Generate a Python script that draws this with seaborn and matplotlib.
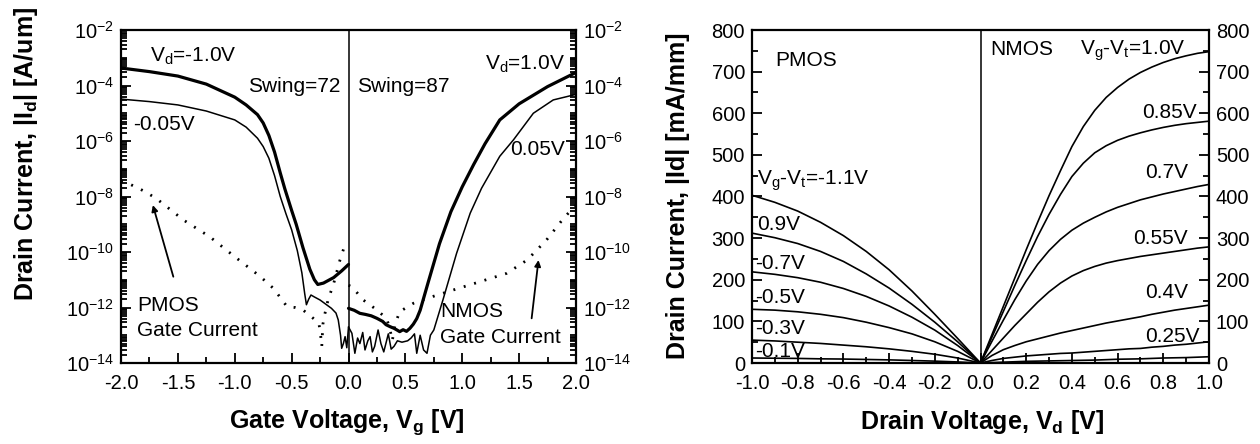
import numpy as np
import pandas as pd
import matplotlib
matplotlib.use("Agg")
import matplotlib.pyplot as plt
import seaborn as sns
from matplotlib.ticker import MultipleLocator, FixedLocator, NullFormatter, FormatStrFormatter, LogFormatterSciNotation

# ---------------- Left panel data: Id-Vg (log10 of |Id| in A/um) ----------------
pmos_hi_vg = [-2.0, -1.75, -1.5, -1.25, -1.0, -0.9, -0.8, -0.75, -0.7, -0.65, -0.6, -0.56, -0.5,
              -0.46, -0.4, -0.34, -0.3, -0.27, -0.22, -0.13, -0.06, 0.0]
pmos_hi_log10 = [-3.37, -3.50, -3.66, -3.95, -4.42, -4.70, -5.05, -5.35, -5.80, -6.40, -7.15, -7.72, -8.50,
                 -9.00, -9.85, -10.62, -11.0, -11.17, -11.12, -10.92, -10.68, -10.45]

pmos_lo_vg = [-2.0, -1.75, -1.5, -1.25, -1.0, -0.9, -0.8, -0.75, -0.7, -0.65, -0.6, -0.55, -0.5, -0.45,
              -0.41, -0.385, -0.37, -0.35, -0.33, -0.3, -0.25, -0.2, -0.15, -0.11, -0.09, -0.07, -0.06,
              -0.045, -0.03, -0.015, 0.0]
pmos_lo_log10 = [-4.49, -4.58, -4.70, -4.92, -5.24, -5.50, -5.90, -6.20, -6.62, -7.25, -8.0, -8.62, -9.20, -9.95,
                 -10.75, -11.5, -11.9, -11.7, -11.55, -11.62, -11.73, -11.88, -12.03, -12.2, -12.45, -13.0, -13.47,
                 -13.3, -13.05, -13.45, -12.7]

nmos_hi_vg = [0.0, 0.05, 0.1, 0.15, 0.2, 0.25, 0.3, 0.33, 0.365, 0.4, 0.43, 0.45, 0.48, 0.51, 0.54, 0.57,
              0.6, 0.63, 0.7, 0.8, 0.9, 1.0, 1.1, 1.2, 1.33, 1.5, 1.75, 2.0]
nmos_hi_log10 = [-12.03, -12.1, -12.21, -12.25, -12.3, -12.39, -12.5, -12.62, -12.69, -12.75, -12.82, -12.87,
                 -12.8, -12.86, -12.75, -12.6, -12.4, -12.1, -11.1, -9.7, -8.55, -7.65, -6.85, -6.1, -5.24,
                 -4.66, -4.04, -3.53]

nmos_lo_vg = [0.0, 0.03, 0.056, 0.08, 0.10, 0.125, 0.145, 0.17, 0.19, 0.21, 0.23, 0.26, 0.285, 0.31, 0.35,
              0.375, 0.40, 0.43, 0.47, 0.52, 0.55, 0.58, 0.60, 0.63, 0.66, 0.69, 0.72, 0.75, 0.83, 0.95,
              1.07, 1.17, 1.33, 1.45, 1.625, 1.8, 2.0]
nmos_lo_log10 = [-12.7, -12.93, -13.65, -13.1, -13.3, -12.9, -13.53, -13.2, -13.05, -13.6, -13.4, -12.81, -13.3,
                 -13.6, -12.95, -13.5, -13.4, -13.2, -13.25, -13.2, -13.1, -12.95, -13.65, -13.0, -13.53, -13.65,
                 -13.0, -12.81, -11.73, -10.05, -8.6, -7.7, -6.55, -5.96, -5.0, -4.52, -4.32]

pgate_vg = [-2.0, -1.94, -1.8, -1.69, -1.45, -1.22, -1.0, -0.78, -0.66, -0.54, -0.47, -0.4, -0.31, -0.26,
            -0.245, -0.235, -0.225, -0.21, -0.18, -0.13, -0.075, -0.04]
pgate_log10 = [-7.45, -7.52, -7.8, -8.07, -8.85, -9.45, -10.17, -10.87, -11.31, -11.97, -12.0, -12.09, -12.39,
               -12.57, -13.0, -13.4, -12.6, -12.27, -11.73, -11.13, -10.29, -9.85]

ngate_vg = [0.0, 0.03, 0.13, 0.23, 0.335, 0.365, 0.385, 0.41, 0.45, 0.57, 0.69, 0.92, 1.156, 1.39, 1.57,
            1.74, 1.89, 2.0]
ngate_log10 = [-11.2, -11.25, -11.73, -12.03, -12.39, -12.8, -13.2, -12.6, -12.15, -11.85, -11.67, -11.37,
               -11.07, -10.77, -10.29, -9.57, -8.79, -8.3]

# ---------------- Right panel data: Id-Vd (mA/mm) ----------------
pmos_vd = [-1.0, -0.9, -0.8, -0.7, -0.6, -0.5, -0.4, -0.3, -0.2, -0.1, 0.0]
pmos_labels = ["-1.1V", "-0.9V", "-0.7V", "-0.5V", "-0.3V", "-0.1V"]
pmos_id_m11 = [403, 386, 365, 338, 306, 268, 224, 173, 117, 59, 0]
pmos_id_m09 = [312, 301, 287, 268, 244, 214, 180, 141, 98, 51, 0]
pmos_id_m07 = [219, 213, 205, 194, 179, 160, 137, 110, 79, 42, 0]
pmos_id_m05 = [129, 127, 123, 117, 109, 98, 85, 70, 51, 28, 0]
pmos_id_m03 = [55, 53, 50, 47, 43, 39, 34, 28, 21, 12, 0]
pmos_id_m01 = [12, 11.5, 11, 10, 9.5, 8.5, 7.5, 6, 4.5, 2.5, 0]

nmos_vd = [0.0, 0.05, 0.1, 0.15, 0.2, 0.25, 0.3, 0.35, 0.4, 0.45, 0.5, 0.55, 0.6, 0.65, 0.7,
           0.75, 0.8, 0.85, 0.9, 0.95, 1.0]
nmos_labels = ["1.0V", "0.85V", "0.7V", "0.55V", "0.4V", "0.25V", "0.1V"]
nmos_id_100 = [0, 68, 136, 204, 272, 338, 402, 462, 520, 568, 607, 638, 662, 682, 698, 711, 722, 731, 738, 744, 748]
nmos_id_085 = [0, 62, 124, 186, 246, 304, 357, 405, 448, 480, 505, 522, 535, 545, 553, 560, 566, 571, 575, 578, 581]
nmos_id_070 = [0, 52, 103, 152, 197, 237, 270, 297, 319, 336, 350, 363, 374, 383, 392, 399, 406, 412, 418, 424, 429]
nmos_id_055 = [0, 30, 60, 90, 118, 146, 171, 192, 209, 222, 232, 240, 246, 251, 256, 260, 264, 268, 272, 276, 279]
nmos_id_040 = [0, 18, 32, 42, 51, 58, 65, 72, 78, 84, 90, 96, 101, 106, 111, 117, 122, 127, 131, 135, 139]
nmos_id_025 = [0, 6, 11, 14, 17, 19, 21, 23, 24, 26, 28, 30, 32, 34, 35, 38, 40, 43, 45, 48, 51]
nmos_id_010 = [0, 1, 2, 3, 4, 4.5, 5, 5.5, 6, 6.5, 7, 8, 9, 9.5, 10, 11, 12, 12.5, 13, 14, 15]

# ---------------- style ----------------
sns.set_theme(style="ticks")
plt.rcParams["font.family"] = ["Liberation Sans", "DejaVu Sans"]
plt.rcParams["mathtext.fontset"] = "custom"
plt.rcParams["mathtext.rm"] = "Liberation Sans"
plt.rcParams["mathtext.it"] = "Liberation Sans"
plt.rcParams["mathtext.bf"] = "Liberation Sans:bold"
plt.rcParams["axes.unicode_minus"] = False
plt.rcParams["axes.grid"] = False
plt.rcParams["text.color"] = "black"
plt.rcParams["axes.labelcolor"] = "black"
plt.rcParams["xtick.color"] = "black"
plt.rcParams["ytick.color"] = "black"

TICK_FS = 14.5
ANN_FS = 15
LAB_FS = 18

fig = plt.figure(figsize=(12.6, 4.44), dpi=100)
fig.patch.set_facecolor("white")
axL = fig.add_axes([121 / 1260, 1 - 363 / 444, 455 / 1260, 333 / 444])
axR = fig.add_axes([752 / 1260, 1 - 363 / 444, 457 / 1260, 333 / 444])

def curve_df(x, logy):
    return pd.DataFrame({"x": x, "y": np.power(10.0, np.asarray(logy, float))})

# ---------------- Left panel ----------------
axL.set_yscale("log")
for x, ly, lw, ls in [
    (pmos_hi_vg, pmos_hi_log10, 2.3, "-"),
    (nmos_hi_vg, nmos_hi_log10, 2.3, "-"),
    (pmos_lo_vg, pmos_lo_log10, 1.1, "-"),
    (nmos_lo_vg, nmos_lo_log10, 1.1, "-"),
    (pgate_vg, pgate_log10, 2.0, (0, (0.7, 3.2))),
    (ngate_vg, ngate_log10, 2.0, (0, (0.7, 3.2))),
]:
    sns.lineplot(data=curve_df(x, ly), x="x", y="y", ax=axL, color="black", lw=lw,
                 linestyle=ls, estimator=None, sort=False)

axL.axvline(0.0, color="black", lw=1.1)
axL.set_xlim(-2.0, 2.0)
axL.set_ylim(1e-14, 1e-2)
axL.xaxis.set_major_locator(MultipleLocator(0.5))
axL.xaxis.set_minor_locator(MultipleLocator(0.25))
axL.xaxis.set_major_formatter(FormatStrFormatter("%.1f"))
axL.yaxis.set_major_locator(FixedLocator([10.0 ** e for e in range(-14, -1, 2)]))
minor_pos = []
for d in range(-14, -2):
    for s in range(1, 10):
        v = s * 10.0 ** d
        if not (s == 1 and d % 2 == 0):
            minor_pos.append(v)
axL.yaxis.set_minor_locator(FixedLocator(minor_pos))
axL.yaxis.set_minor_formatter(NullFormatter())
axL.yaxis.set_major_formatter(LogFormatterSciNotation())
axL.set_xlabel("")
axL.set_ylabel("")

def anL(x, logy, s, **kw):
    axL.text(x, 10.0 ** logy, s, fontsize=ANN_FS, color="black", va="baseline", **kw)

anL(-1.745, -3.15, r"V$_\mathrm{d}$=-1.0V")
anL(-0.884, -4.23, "Swing=72")
anL(0.075, -4.23, "Swing=87")
anL(1.20, -3.44, r"V$_\mathrm{d}$=1.0V")
anL(-1.895, -5.60, "-0.05V")
anL(1.42, -6.50, "0.05V")
anL(-1.86, -12.12, "PMOS")
anL(-1.86, -13.03, "Gate Current")
anL(0.805, -12.33, "NMOS")
anL(0.805, -13.29, "Gate Current")

arrow_kw = dict(arrowstyle="-|>", color="black", lw=1.3, mutation_scale=9, shrinkA=0, shrinkB=0)
axL.annotate("", xy=(-1.72, 10 ** -8.31), xytext=(-1.54, 10 ** -10.89), arrowprops=arrow_kw)
axL.annotate("", xy=(1.67, 10 ** -10.29), xytext=(1.61, 10 ** -12.39), arrowprops=arrow_kw)

# ---------------- Right panel ----------------
rows = []
for lab, vals in zip(pmos_labels, [pmos_id_m11, pmos_id_m09, pmos_id_m07, pmos_id_m05, pmos_id_m03, pmos_id_m01]):
    rows.append(pd.DataFrame({"Vd": pmos_vd, "Id": vals, "curve": "P" + lab}))
for lab, vals in zip(nmos_labels, [nmos_id_100, nmos_id_085, nmos_id_070, nmos_id_055, nmos_id_040, nmos_id_025, nmos_id_010]):
    rows.append(pd.DataFrame({"Vd": nmos_vd, "Id": vals, "curve": "N" + lab}))
dfR = pd.concat(rows, ignore_index=True)
sns.lineplot(data=dfR, x="Vd", y="Id", units="curve", estimator=None, color="black", lw=1.2, ax=axR, sort=False)
axR.axvline(0.0, color="black", lw=1.1)
axR.set_xlim(-1.0, 1.0)
axR.set_ylim(0, 800)
axR.xaxis.set_major_locator(MultipleLocator(0.2))
axR.xaxis.set_minor_locator(MultipleLocator(0.1))
axR.xaxis.set_major_formatter(FormatStrFormatter("%.1f"))
axR.yaxis.set_major_locator(MultipleLocator(100))
axR.yaxis.set_minor_locator(MultipleLocator(50))
axR.set_xlabel("")
axR.set_ylabel("")

def anR(x, y, s, **kw):
    axR.text(x, y, s, fontsize=ANN_FS, color="black", va="baseline", **kw)

anR(-0.90, 713, "PMOS")
anR(0.042, 740, "NMOS")
anR(0.435, 740, r"V$_\mathrm{g}$-V$_\mathrm{t}$=1.0V")
anR(0.947, 589, "0.85V", ha="right")
anR(0.908, 444, "0.7V", ha="right")
anR(0.908, 286, "0.55V", ha="right")
anR(0.908, 156, "0.4V", ha="right")
anR(0.96, 51, "0.25V", ha="right")
anR(-0.979, 428, r"V$_\mathrm{g}$-V$_\mathrm{t}$=-1.1V")
anR(-0.979, 320, "0.9V")
anR(-0.987, 227, "-0.7V")
anR(-0.987, 143, "-0.5V")
anR(-0.987, 70, "-0.3V")
anR(-0.987, 15, "-0.1V")

# ---------------- axes styling ----------------
for ax in (axL, axR):
    ax.set_facecolor("white")
    for sp in ax.spines.values():
        sp.set_visible(True)
        sp.set_linewidth(1.6)
        sp.set_color("black")
    ax.tick_params(axis="both", which="both", direction="in", colors="black",
                   top=False, bottom=True, left=True, right=True,
                   labelleft=True, labelright=True, labelsize=TICK_FS, width=1.3)
    ax.tick_params(axis="both", which="major", length=7)
    ax.tick_params(axis="both", which="minor", length=4)
    ax.tick_params(axis="x", which="major", pad=8)
    ax.tick_params(axis="y", which="major", pad=5)

fig.text(26 / 1260, 1 - 154 / 444, r"Drain Current, |I$_\mathbf{d}$| [A/um]", rotation=90,
         ha="center", va="center", fontsize=LAB_FS, fontweight="bold", color="black")
fig.text(347 / 1260, 1 - 428 / 444, r"Gate Voltage, V$_\mathbf{g}$ [V]",
         ha="center", va="baseline", fontsize=LAB_FS, fontweight="bold", color="black")
fig.text(678 / 1260, 1 - 196 / 444, "Drain Current, |Id| [mA/mm]", rotation=90,
         ha="center", va="center", fontsize=LAB_FS, fontweight="bold", color="black")
fig.text(982 / 1260, 1 - 429 / 444, r"Drain Voltage, V$_\mathbf{d}$ [V]",
         ha="center", va="baseline", fontsize=LAB_FS, fontweight="bold", color="black")

fig.savefig("out.png", dpi=100, facecolor="white")
